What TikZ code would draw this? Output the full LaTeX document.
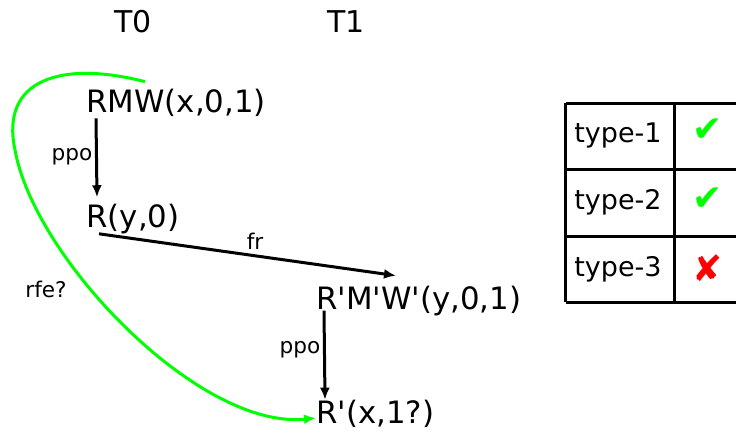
\documentclass[tikz,border=0pt]{standalone}
\usepackage{fontspec}
\setmainfont{DejaVu Sans}
\setmonofont{DejaVu Sans}
\usetikzlibrary{arrows.meta}
\definecolor{brightgreen}{RGB}{0,255,0}
\definecolor{brightred}{RGB}{255,0,0}
\tikzset{
  ev/.style={anchor=base west, inner sep=2pt, font=\ttfamily\fontsize{15.4}{18}\selectfont},
  hdr/.style={inner sep=0pt, font=\fontsize{15}{18}\selectfont},
  lbl/.style={inner sep=0pt, font=\fontsize{10.8}{13}\selectfont},
  cell/.style={anchor=west, inner sep=0pt, font=\fontsize{13.5}{16}\selectfont},
  tickmark/.style={inner sep=0pt, font=\fontsize{18}{20}\selectfont},
  arr/.style={line width=1.5pt, -{Latex[length=6pt,width=5pt]}},
  garr/.style={line width=1.5pt, brightgreen, -{Latex[length=6pt,width=5pt]}},
  tbl/.style={line width=1.5pt},
}
\begin{document}
\begin{tikzpicture}[x=0.5pt,y=-0.5pt]
\useasboundingbox (0,0) rectangle (736,434);
% headers
\node[hdr] (t0) at (133,22) {T0};
\node[hdr] (t1) at (346,22) {T1};
% events
\node[ev] (rmw) at (82,112) {RMW(x,0,1)};
\node[ev] (ry) at (82,227) {R(y,0)};
\node[ev] (rmw2) at (312,309) {R'M'W'(y,0,1)};
\node[ev] (rx) at (312,423) {R'(x,1?)};
% arrows
\draw[arr] ([xshift=7pt,yshift=1pt]rmw.south west) -- ([xshift=7.5pt,yshift=1pt]ry.north west);
\draw[arr] ([xshift=8.5pt,yshift=2pt]ry.south west) -- ([xshift=42pt,yshift=2.8pt]rmw2.north west);
\draw[arr] ([xshift=6pt,yshift=4.6pt]rmw2.south west) -- ([xshift=6.5pt,yshift=-2.2pt]rx.north west);
\draw[garr] ([xshift=31.5pt,yshift=1.3pt]rmw.north west) .. controls (60,60) and (0,80) .. (15,150)
  .. controls (35,260) and (200,430) .. ([xshift=2pt,yshift=2.5pt]rx.base west);
% labels
\node[lbl] (l1) at (72,157) {ppo};
\node[lbl] (l2) at (255,241) {fr};
\node[lbl] (l3) at (300,350) {ppo};
\node[lbl] (l4) at (46,289) {rfe?};
% table
\draw[tbl] (566,103) -- (736,103);
\draw[tbl] (566,169) -- (736,169);
\draw[tbl] (566,236) -- (736,236);
\draw[tbl] (566,302) -- (736,302);
\draw[tbl] (566,103) -- (566,302);
\draw[tbl] (675,103) -- (675,302);
\node[cell] (c1) at (574,135) {type-1};
\node[cell] (c2) at (574,202) {type-2};
\node[cell] (c3) at (574,269) {type-3};
\node[tickmark, text=brightgreen] (m1) at (708,130) {✔};
\node[tickmark, text=brightgreen] (m2) at (708,199) {✔};
\node[tickmark, text=brightred] (m3) at (708,268) {✘};
\end{tikzpicture}
\end{document}
